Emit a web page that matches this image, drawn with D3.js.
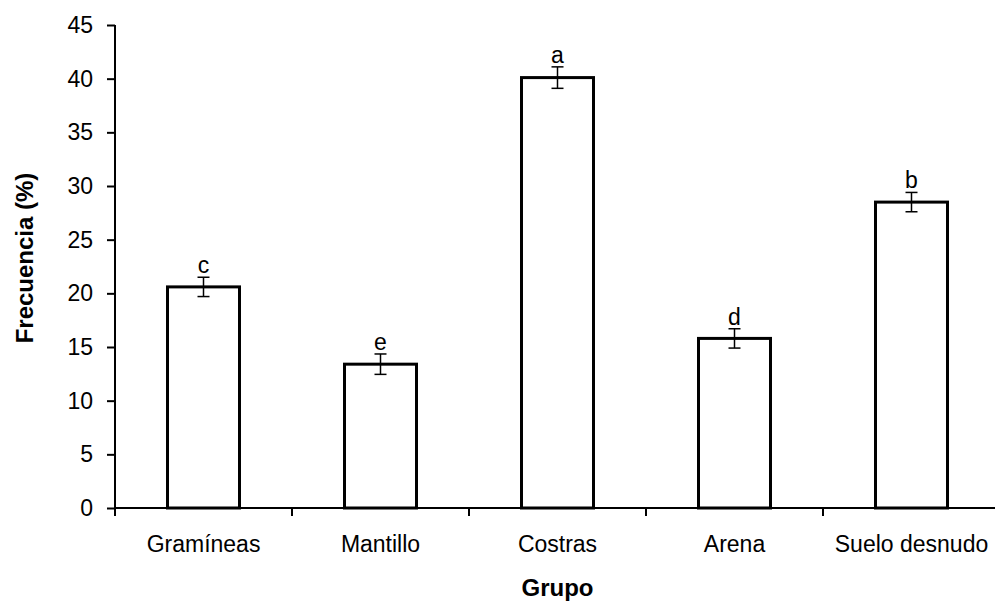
<!DOCTYPE html>
<html><head><meta charset="utf-8">
<script src="https://cdn.jsdelivr.net/npm/d3@7"></script>
<style>body{margin:0;background:#fff}svg{display:block}text{font-family:"Liberation Sans",Arial,sans-serif}</style>
</head><body>
<script>
const categories = ["Gramíneas","Mantillo","Costras","Arena","Suelo desnudo"];
const values = [20.6, 13.4, 40.1, 15.8, 28.5];
const errors = [0.9, 0.95, 1.0, 0.9, 0.9];
const letters = ["c","e","a","d","b"];
const yTicks = [0,5,10,15,20,25,30,35,40,45];

(function(){
const W=995,H=601;
const mLeft=115, mTop=25, mBottom=508, bandW=177;
const FS=23, TFS=24;
const svg=d3.select("body").append("svg").attr("width",W).attr("height",H);
const x=d3.scaleBand().domain(categories).range([mLeft,mLeft+bandW*categories.length]).paddingInner(0).paddingOuter(0);
const y=d3.scaleLinear().domain([0,45]).range([mBottom,mTop]);
const barW=72;

// y axis
const ya=svg.append("g").attr("transform",`translate(${mLeft},0)`)
  .call(d3.axisLeft(y).tickValues(yTicks).tickSize(8).tickPadding(14));
ya.attr("font-size",null).attr("font-family",null);
ya.select(".domain").attr("stroke","#000").attr("stroke-width",2).attr("d",`M0,${mBottom}V${mTop}`);
ya.selectAll(".tick line").attr("stroke","#000").attr("stroke-width",2);
ya.selectAll(".tick text").attr("font-size",FS).attr("fill","#000");

// x axis
const xa=svg.append("g").attr("transform",`translate(0,${mBottom})`)
  .call(d3.axisBottom(x).tickSize(0));
xa.attr("font-size",null).attr("font-family",null);
xa.select(".domain").attr("stroke","#000").attr("stroke-width",2).attr("d",`M${mLeft},0H${mLeft+bandW*5}`);
xa.selectAll(".tick text").attr("font-size",FS).attr("fill","#000").attr("y",44).attr("dy",null);
const bounds=d3.range(categories.length+1).map(i=>mLeft+i*bandW);
svg.append("g").selectAll("line").data(bounds).join("line")
  .attr("x1",d=>d).attr("x2",d=>d).attr("y1",mBottom).attr("y2",mBottom+8)
  .attr("stroke","#000").attr("stroke-width",2);

// bars
const cx=d=>x(d)+x.bandwidth()/2;
svg.append("g").selectAll("rect").data(categories).join("rect")
  .attr("x",d=>cx(d)-barW/2).attr("width",barW)
  .attr("y",(d,i)=>y(values[i])).attr("height",(d,i)=>mBottom-y(values[i]))
  .attr("fill","#fff").attr("stroke","#000").attr("stroke-width",3);

// error bars
const eb=svg.append("g").attr("stroke","#000").attr("stroke-width",1.5);
categories.forEach((c,i)=>{
  const xc=cx(c), y1=y(values[i]+errors[i]), y2=y(values[i]-errors[i]);
  eb.append("line").attr("x1",xc).attr("x2",xc).attr("y1",y1).attr("y2",y2);
  eb.append("line").attr("x1",xc-6).attr("x2",xc+6).attr("y1",y1).attr("y2",y1);
  eb.append("line").attr("x1",xc-6).attr("x2",xc+6).attr("y1",y2).attr("y2",y2);
  svg.append("text").attr("x",xc).attr("y",y1-4).attr("text-anchor","middle")
    .attr("font-size",FS).attr("fill","#000").text(letters[i]);
});

// titles
svg.append("text").attr("x",mLeft+bandW*2.5).attr("y",596).attr("text-anchor","middle")
  .attr("font-size",TFS).attr("font-weight","bold").text("Grupo");
svg.append("text").attr("transform",`translate(33,258) rotate(-90)`).attr("text-anchor","middle")
  .attr("font-size",TFS).attr("font-weight","bold").text("Frecuencia (%)");
})();
</script>
</body></html>
